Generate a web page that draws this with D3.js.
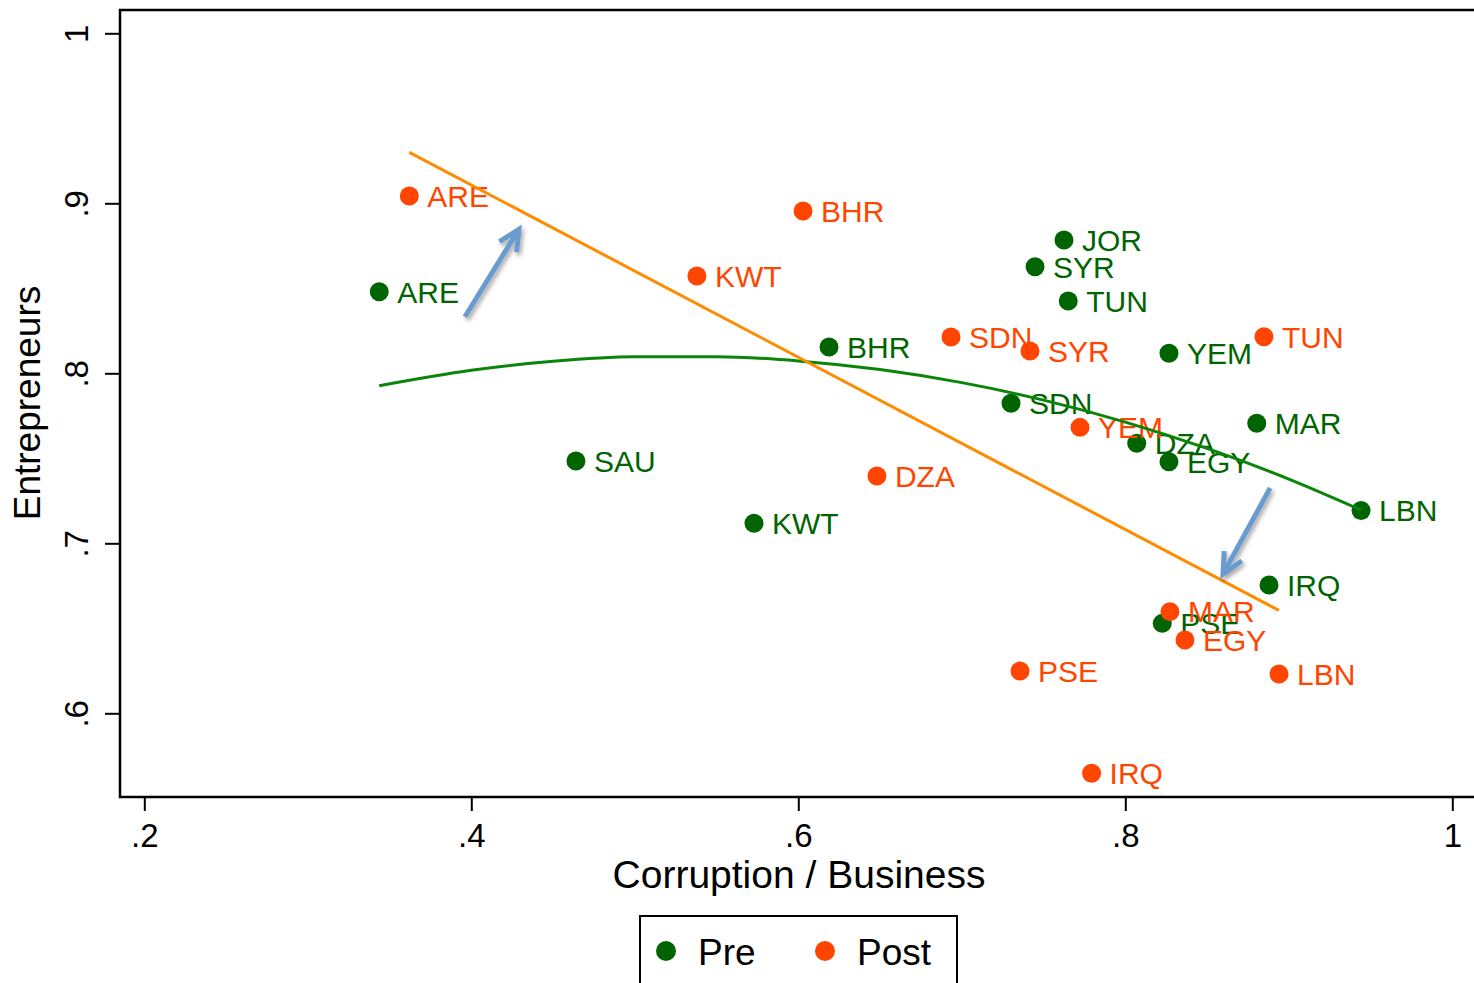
<!DOCTYPE html>
<html><head><meta charset="utf-8">
<script src="https://cdn.jsdelivr.net/npm/d3@7"></script>
<style>
body{margin:0;background:#fff}
svg{display:block;background:#fff}
text{font-family:"Liberation Sans",Arial,Helvetica,sans-serif}
</style>
</head><body>
<svg id="chart" width="1474" height="983"></svg>
<script>
// ---------- data ----------
const preCountries = ["ARE","SAU","KWT","BHR","JOR","SYR","TUN","SDN","YEM","DZA","EGY","MAR","LBN","IRQ","PSE"];
const preX = [0.3437,0.4640,0.5729,0.6188,0.7625,0.7448,0.7651,0.7301,0.8267,0.8070,0.8267,0.8804,0.9442,0.8879,0.8226];
const preY = [0.8480,0.7484,0.7118,0.8155,0.8784,0.8627,0.8425,0.7824,0.8118,0.7588,0.7480,0.7706,0.7193,0.6755,0.6529];

const postCountries = ["ARE","BHR","KWT","SDN","SYR","TUN","YEM","DZA","MAR","EGY","PSE","LBN","IRQ"];
const postX = [0.3621,0.6029,0.5380,0.6934,0.7417,0.8848,0.7723,0.6481,0.8273,0.8365,0.7356,0.8940,0.7794];
const postY = [0.9043,0.8955,0.8572,0.8214,0.8131,0.8215,0.7682,0.7396,0.6598,0.6431,0.6249,0.6231,0.5647];

// fitted curves
const preFitX = [0.3437,0.40,0.45,0.50,0.55,0.60,0.65,0.70,0.75,0.80,0.85,0.90,0.9442];
const preFitY = [0.7927,0.8018,0.8071,0.8097,0.8098,0.8073,0.8022,0.7945,0.7842,0.7713,0.7558,0.7378,0.7196];
const postFitX = [0.3621,0.8940];
const postFitY = [0.9300,0.6605];

const xTicks = [0.2,0.4,0.6,0.8,1];
const xTickLabels = [".2",".4",".6",".8","1"];
const yTicks = [0.6,0.7,0.8,0.9,1];
const yTickLabels = [".6",".7",".8",".9","1"];

const legendLabels = ["Pre","Post"];
const arrowFrom = [[0.3961,0.8333],[0.8886,0.7325]];
const arrowTo   = [[0.4291,0.8847],[0.8598,0.6819]];

// ---------- drawing ----------
const svg = d3.select("#chart");
const x = d3.scaleLinear().domain([0.2,1]).range([144.3,1452.3]);
const y = d3.scaleLinear().domain([0.6,1]).range([713.3,33.3]);

const GREEN_DOT = "#006400", ORANGE_DOT = "#ff4500";
const GREEN_LINE = "#0a850a", ORANGE_LINE = "#ff8c00", ARROW = "#6b9bd0";

const defs = svg.append("defs");
const f = defs.append("filter").attr("id","shadow").attr("x","-50%").attr("y","-50%").attr("width","200%").attr("height","200%");
f.append("feDropShadow").attr("dx",2).attr("dy",3).attr("stdDeviation",2).attr("flood-color","#000").attr("flood-opacity",0.35);

const plotLeft = 120, plotTop = 10, plotBottom = 797;

// axes
const xAxis = d3.axisBottom(x).tickValues(xTicks).tickFormat((d,i)=>xTickLabels[i]).tickSize(14).tickSizeOuter(0);
const gx = svg.append("g").attr("transform",`translate(0,${plotBottom})`).call(xAxis);
gx.select(".domain").remove();
gx.selectAll(".tick line").attr("stroke","#000").attr("stroke-width",2);
gx.selectAll(".tick text").attr("font-size",33).attr("fill","#000").attr("y",null).attr("dy",null)
  .attr("transform","translate(0,50)");

const yAxis = d3.axisLeft(y).tickValues(yTicks).tickFormat((d,i)=>yTickLabels[i]).tickSize(15).tickSizeOuter(0);
const gy = svg.append("g").attr("transform",`translate(${plotLeft},0)`).call(yAxis);
gy.select(".domain").remove();
gy.selectAll(".tick line").attr("stroke","#000").attr("stroke-width",2);
gy.selectAll(".tick text").attr("font-size",33).attr("fill","#000").attr("x",null).attr("dy",null)
  .attr("text-anchor","middle").attr("transform","translate(-32,0) rotate(-90)");

// frame
svg.append("path").attr("d",`M1480,${plotTop}H${plotLeft}V${plotBottom}H1480`).attr("fill","none").attr("stroke","#000").attr("stroke-width",2.5);

// titles
svg.append("text").attr("x",799).attr("y",888).attr("text-anchor","middle").attr("font-size",39).attr("fill","#000").text("Corruption / Business");
svg.append("text").attr("transform","translate(40,403) rotate(-90)").attr("text-anchor","middle").attr("font-size",37).attr("fill","#000").text("Entrepreneurs");

const pre = preCountries.map((c,i)=>({c, x:preX[i], y:preY[i]}));
const post = postCountries.map((c,i)=>({c, x:postX[i], y:postY[i]}));

function drawSeries(data, color){
  const g = svg.append("g");
  g.selectAll("circle").data(data).join("circle")
    .attr("cx",d=>x(d.x)).attr("cy",d=>y(d.y)).attr("r",9.5).attr("fill",color);
  g.selectAll("text").data(data).join("text")
    .attr("x",d=>x(d.x)+18).attr("y",d=>y(d.y)+10.8)
    .attr("font-size",30).attr("fill",color).text(d=>d.c);
}
drawSeries(pre, GREEN_DOT);
drawSeries(post, ORANGE_DOT);

// fits
const line = d3.line().x(d=>x(d[0])).y(d=>y(d[1])).curve(d3.curveMonotoneX);
svg.append("path").attr("d",line(preFitX.map((v,i)=>[v,preFitY[i]])))
  .attr("fill","none").attr("stroke",GREEN_LINE).attr("stroke-width",3);
svg.append("path").attr("d",d3.line().x(d=>x(d[0])).y(d=>y(d[1]))(postFitX.map((v,i)=>[v,postFitY[i]])))
  .attr("fill","none").attr("stroke",ORANGE_LINE).attr("stroke-width",3);

// arrows
arrowFrom.forEach((a,i)=>{
  const b = arrowTo[i];
  const x0=x(a[0]), y0=y(a[1]), x1=x(b[0]), y1=y(b[1]);
  const ang = Math.atan2(y1-y0, x1-x0);
  const L = 23, h = 26*Math.PI/180;
  const bx1 = x1 - L*Math.cos(ang-h), by1 = y1 - L*Math.sin(ang-h);
  const bx2 = x1 - L*Math.cos(ang+h), by2 = y1 - L*Math.sin(ang+h);
  svg.append("path").attr("d",`M${x0},${y0}L${x1},${y1}M${bx1},${by1}L${x1},${y1}L${bx2},${by2}`)
    .attr("fill","none").attr("stroke",ARROW).attr("stroke-width",5)
    .attr("stroke-linejoin","miter").attr("filter","url(#shadow)");
});

// legend
const lg = svg.append("g");
lg.append("rect").attr("x",640).attr("y",916).attr("width",317).attr("height",120)
  .attr("fill","#fff").attr("stroke","#000").attr("stroke-width",2);
const legColors = [GREEN_DOT, ORANGE_DOT];
const legDotX = [666, 825];
legendLabels.forEach((t,i)=>{
  lg.append("circle").attr("cx",legDotX[i]).attr("cy",951).attr("r",10).attr("fill",legColors[i]);
  lg.append("text").attr("x",legDotX[i]+32).attr("y",965).attr("font-size",37).attr("fill","#000").text(t);
});
</script>
</body></html>
